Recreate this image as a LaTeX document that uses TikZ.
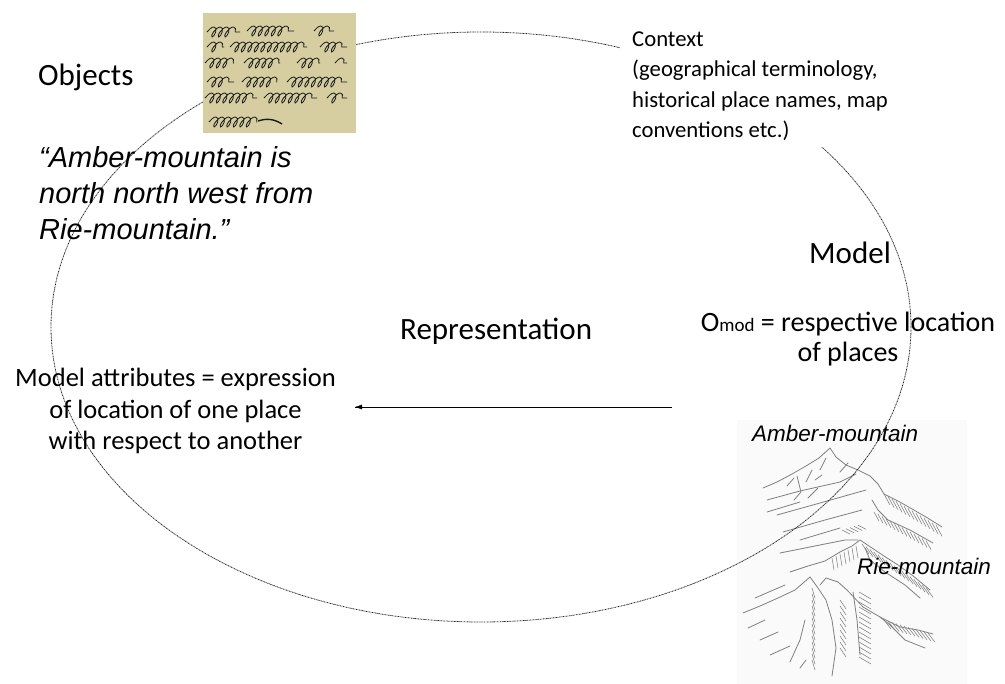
\documentclass[tikz,border=0pt]{standalone}
\usepackage{fontspec}
\setmainfont{Carlito}
\newfontfamily\arialfont{Liberation Sans}
\usetikzlibrary{positioning, shapes.geometric, arrows.meta, decorations.markings, decorations.pathmorphing}
\definecolor{Parchment}{RGB}{214,205,160}
\tikzstyle{Arrow} = [
thin,
decoration={
markings,
mark=at position 0.9999 with {
\arrow{Latex[length=7pt,width=5pt]}}},
preaction = {decorate}]
\tikzstyle{Frame} = [ellipse, draw=black!85, line width=0.8pt,
dash pattern=on 1.4pt off 0.7pt on 0.5pt off 0.7pt,
minimum width=860pt, minimum height=590pt, inner sep=0pt]
\tikzstyle{Scrawl} = [black!90, line width=0.8pt, decorate,
decoration={coil, amplitude=5pt, segment length=6.5pt, aspect=0.55, transform={xslant=0.5}}]
\tikzstyle{Ridge} = [black!50, line width=0.8pt, line join=round, line cap=round]
\tikzstyle{Hatch} = [black!50, line width=0.55pt, line cap=round]
\tikzstyle{Label} = [inner sep=0pt, anchor=base west]

\begin{document}
\begin{tikzpicture}[x=1pt, y=-1pt]
    \useasboundingbox (0,0) rectangle (1005,684);
    % mountain sketch
    \fill [black!2] (737,420) rectangle (967,684);
    \draw [Ridge] (763,488) -- (777,482) -- (792,474) -- (806,466) -- (819,458) -- (830,448) -- (836,457) -- (846,465) -- (858,470) -- (870,476) -- (878,484) -- (884,494) -- (898,501) -- (912,509) -- (926,517) -- (942,527);
    \draw [Ridge] (797,476) -- (801,492) -- (794,500);
    \draw [Ridge] (806,482) -- (812,470); \draw [Ridge] (808,498) -- (818,488);
    \draw [Ridge] (820,470) -- (826,458); \draw [Ridge] (840,472) -- (848,463);
    \draw [Ridge] (787,486) -- (794,478); \draw [Ridge] (815,480) -- (822,475);
    \draw [Ridge] (767,500) -- (800,491) -- (840,482) -- (856,474);
    \draw [Ridge] (767,512) -- (800,502);
    \draw [Ridge] (777,515) -- (820,503) -- (866,490);
    \draw [Ridge] (783,532) -- (825,520) -- (862,510);
    \draw [Ridge] (800,540) -- (840,528);
    \draw [Ridge] (780,553) -- (815,546) -- (845,540) -- (858,540);
    \draw [Ridge] (872,500) -- (878,510) -- (888,520) -- (910,530) -- (933,543);
    \foreach \x in {884,888,...,938}
        \draw [Hatch] (\x,{494+(\x-884)*0.6}) -- ++(6,11);
    \foreach \x in {874,878,...,926}
        \draw [Hatch] (\x,{512+(\x-874)*0.55}) -- ++(5,9);
    \foreach \x in {842,846,...,858}
        \draw [Hatch] (\x,{530-(\x-842)*0.3}) -- ++(8,4);
    \draw [Ridge] (790,572) -- (808,566) -- (825,561) -- (840,552) -- (852,546) -- (860,540) -- (872,548) -- (884,556) -- (898,565) -- (912,575) -- (930,590);
    \draw [Ridge] (865,548) -- (870,560) -- (885,572) -- (905,585) -- (920,598);
    \foreach \x in {862,866,...,926}
        \draw [Hatch] (\x,{544+(\x-862)*0.68}) -- ++(7,10);
    \foreach \x in {832,836,...,856}
        \draw [Hatch] (\x,{558-(\x-832)*0.5}) -- ++(2,12);
    \draw [Ridge] (743,613) -- (760,606) -- (778,598) -- (795,590) -- (810,577) -- (818,588) -- (826,600) -- (832,620) -- (836,648) -- (832,676);
    \draw [Ridge] (838,582) -- (847,590) -- (863,607) -- (880,617) -- (900,627) -- (918,630) -- (933,634);
    \draw [Ridge] (853,592) -- (857,620) -- (860,655);
    \draw [Ridge] (820,585) -- (826,578) -- (838,582);
    \draw [Ridge] (755,598) -- (785,585);
    \draw [Ridge] (748,628) -- (765,620); \draw [Ridge] (760,640) -- (778,632);
    \draw [Ridge] (770,655) -- (790,646); \draw [Ridge] (800,668) -- (806,660);
    \draw [Ridge] (790,662) -- (800,640) -- (805,620);
    \draw [Ridge] (880,617) -- (890,625) -- (905,640) -- (925,648);
    \foreach \y in {588,594,...,664}
        \draw [Hatch] (812,\y) -- ++(3,10);
    \foreach \y in {592,597,...,660}
        \draw [Hatch] (859,\y) -- ++(12,7);
    \foreach \y in {600,606,...,650}
        \draw [Hatch] (840,\y) -- ++(6,9);
    \foreach \x in {884,888,...,928}
        \draw [Hatch] (\x,{620+(\x-884)*0.3}) -- ++(7,9);
    % frame
    \node [Frame] (0) at (481,327) {};
    % manuscript
    \fill [Parchment] (203,13) rectangle (356,133);
    \begin{scope}[shift={(-3,0)}]
    \draw [Scrawl] (210,32) -- (243,32); \draw [Scrawl] (250,31) -- (297,31); \draw [Scrawl] (317,31) -- (337,31);
    \draw [Scrawl] (210,47) -- (227,47); \draw [Scrawl] (233,47) -- (310,47); \draw [Scrawl] (323,47) -- (350,47);
    \draw [Scrawl] (208,63) -- (237,63); \draw [Scrawl] (247,63) -- (283,63); \draw [Scrawl] (300,63) -- (323,63); \draw [Scrawl] (338,63) -- (350,63);
    \draw [Scrawl] (210,82) -- (237,82); \draw [Scrawl] (245,82) -- (280,82); \draw [Scrawl] (290,82) -- (350,82);
    \draw [Scrawl] (208,98) -- (260,98); \draw [Scrawl] (267,98) -- (320,98); \draw [Scrawl] (330,98) -- (350,98);
    \draw [Scrawl] (212,122) -- (260,122);
    \end{scope}
    \draw [black!90, line width=1.4pt] (258,121) to [bend left=25] (282,124);
    % texts
    \node [Label, font=\fontsize{31}{37}\selectfont] (1) at (38,86) {Objects};
    \node [Label, align=left, font=\arialfont\itshape\fontsize{29}{36}\selectfont] (2) at (39,240) {“Amber-mountain is\\north north west from\\Rie-mountain.”};
    \node [Label, align=left, fill=white, inner xsep=12pt, inner ysep=6pt, font=\fontsize{22.7}{30.5}\selectfont] (3) at (620,138) {Context\\(geographical terminology,\\historical place names, map\\conventions etc.)};
    \node [Label, font=\fontsize{31}{37}\selectfont] (4) at (809,264) {Model};
    \node [anchor=base, align=center, inner sep=0pt, font=\fontsize{28}{30}\selectfont] (5) at (848,362) {O{\fontsize{19}{20}\selectfont mod} = respective location\\of places};
    \node [Label, font=\fontsize{31}{37}\selectfont] (6) at (400,340) {Representation};
    \node [anchor=base, align=center, inner sep=0pt, font=\fontsize{26.5}{31.5}\selectfont] (7) at (175.5,450) {Model attributes = expression\\of location of one place\\with respect to another};
    \node [Label, font=\arialfont\itshape\fontsize{22.5}{27}\selectfont] (8) at (752,442) {Amber-mountain};
    \node [Label, font=\arialfont\itshape\fontsize{22.5}{27}\selectfont] (9) at (857,575) {Rie-mountain};
    \coordinate (10) at (672,407);
    \coordinate (11) at (355,407);
    \draw [Arrow] (10) to (11);
\end{tikzpicture}
\end{document}
